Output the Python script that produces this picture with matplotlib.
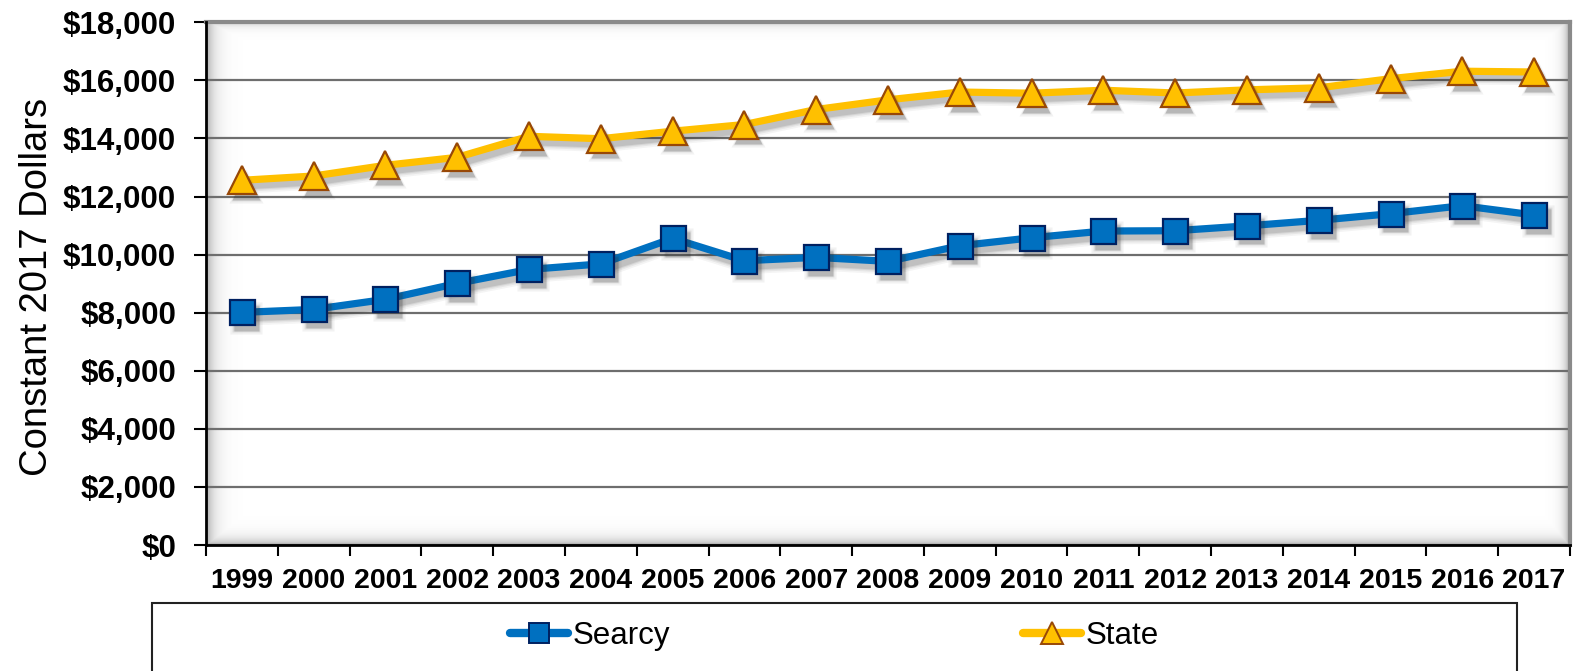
import numpy as np
import matplotlib
matplotlib.use("Agg")
import matplotlib.pyplot as plt
from matplotlib.lines import Line2D
from matplotlib.patches import Rectangle
from matplotlib.ticker import FixedLocator, FuncFormatter
from matplotlib.transforms import offset_copy

plt.rcParams['font.family'] = ['Liberation Sans', 'DejaVu Sans']

# Per-pupil spending, constant 2017 dollars
years = ['1999', '2000', '2001', '2002', '2003', '2004', '2005', '2006', '2007', '2008',
         '2009', '2010', '2011', '2012', '2013', '2014', '2015', '2016', '2017']
searcy = [8010, 8113, 8460, 9010, 9490, 9680, 10560, 9790, 9905, 9767,
          10305, 10580, 10812, 10823, 10990, 11181, 11409, 11685, 11364]
state = [12559, 12707, 13075, 13350, 14074, 13991, 14250, 14480, 14997, 15330,
         15599, 15558, 15661, 15565, 15674, 15744, 16058, 16316, 16288]
series_names = ['Searcy', 'State']
y_ticks = list(range(0, 18001, 2000))

W, H = 1575, 671
fig = plt.figure(figsize=(W / 100, H / 100), dpi=100)
ax_l, ax_r, ax_t, ax_b = 206, 1570, 22.3, 545
ax = fig.add_axes([ax_l / W, 1 - ax_b / H, (ax_r - ax_l) / W, (ax_b - ax_t) / H])

x = np.arange(len(years))

# inner shadow of the plot area
pw, ph = int(ax_r - ax_l), int(ax_b - ax_t)
xx = np.arange(pw)[None, :].repeat(ph, 0).astype(float)
yy = np.arange(ph)[:, None].repeat(pw, 1).astype(float)
alpha = np.maximum.reduce([
    0.50 * np.exp(-xx / 7.5),
    0.45 * np.exp(-(ph - 1 - yy) / 6.0),
    0.55 * np.exp(-(pw - 1 - xx) / 5.0),
    0.30 * np.exp(-yy / 4.0),
])
shade = np.zeros((ph, pw, 4))
shade[..., :3] = 0.35
shade[..., 3] = alpha
ax.imshow(shade, extent=(0, 1, 0, 1), transform=ax.transAxes, aspect='auto',
          zorder=0.5, interpolation='bilinear')

# soft drop shadow, offset down and to the right
shadow_tr = offset_copy(ax.transData, fig=fig, x=4, y=-5.5, units='dots')
blur_layers = [(6, 0.05), (3.5, 0.07), (1.5, 0.09), (0, 0.12)]

styles = [
    dict(color='#0070C0', marker='s', mfc='#0070C0', mec='#002060', ms=18),
    dict(color='#FFC000', marker='^', mfc='#FFC000', mec='#984807', ms=19.5),
]
lw = 5.2
for vals, st in zip([searcy, state], styles):
    ms = st['ms']
    for grow, a in blur_layers:
        ax.plot(x, vals, color='#303030', alpha=a, lw=lw + grow, solid_joinstyle='round',
                solid_capstyle='round', transform=shadow_tr, zorder=2)
        ax.plot(x, vals, ls='none', marker=st['marker'], ms=ms + grow * 0.8, mfc='#303030',
                mec='none', alpha=a * 1.2, transform=shadow_tr, zorder=3.5)
    ax.plot(x, vals, color=st['color'], lw=lw, solid_joinstyle='round',
            solid_capstyle='round', zorder=3)
    ax.plot(x, vals, ls='none', marker=st['marker'], ms=ms, mfc=st['mfc'],
            mec=st['mec'], mew=1.6, zorder=4)

ax.set_xlim(-0.5, len(years) - 0.5)
ax.set_ylim(0, 18000)

ax.yaxis.set_major_locator(FixedLocator(y_ticks))
ax.yaxis.set_major_formatter(FuncFormatter(lambda v, p: '${:,.0f}'.format(v)))
ax.tick_params(axis='y', which='major', direction='out', length=9, width=1.5,
               color='black', pad=12.5, labelsize=22.5)
for lab in ax.get_yticklabels():
    lab.set_fontweight('bold')

ax.set_xticks(x)
ax.set_xticklabels(years, fontsize=20.5, fontweight='bold')
ax.set_xticks(np.arange(-0.5, len(years)), minor=True)
ax.tick_params(axis='x', which='major', length=0, pad=16.5)
ax.tick_params(axis='x', which='minor', direction='out', length=8, width=1.5, color='black')

ax.grid(axis='y', color='#6e6e6e', lw=1.6, zorder=1)
ax.set_axisbelow(True)

for side in ['left', 'bottom']:
    ax.spines[side].set_color('black')
    ax.spines[side].set_linewidth(2)
    ax.spines[side].set_zorder(5)
for side in ['top', 'right']:
    ax.spines[side].set_color('#8a8a8a')
    ax.spines[side].set_linewidth(3)

fig.text(37 / W, 1 - 287 / H, 'Constant 2017 Dollars', rotation=90, fontsize=27.5,
         ha='center', va='center')

# legend frame and entries
fig.patches.append(Rectangle((152 / W, -0.05), (1517 - 152) / W, 1 - 603 / H + 0.05,
                             transform=fig.transFigure, fill=False, ec='#222222', lw=1.5))
handles = [
    Line2D([], [], color=st['color'], lw=6, solid_capstyle='round', marker=st['marker'],
           ms=st['ms'] * 0.8, mfc=st['mfc'], mec=st['mec'], mew=1.4)
    for st in styles
]
fig.legend(handles, series_names, loc='center', bbox_to_anchor=(834.5 / W, 1 - 636 / H),
           ncol=2, frameon=False, fontsize=22.5, handlelength=1.86, handletextpad=0.15,
           columnspacing=11.3)

fig.savefig('out.png', dpi=100)
